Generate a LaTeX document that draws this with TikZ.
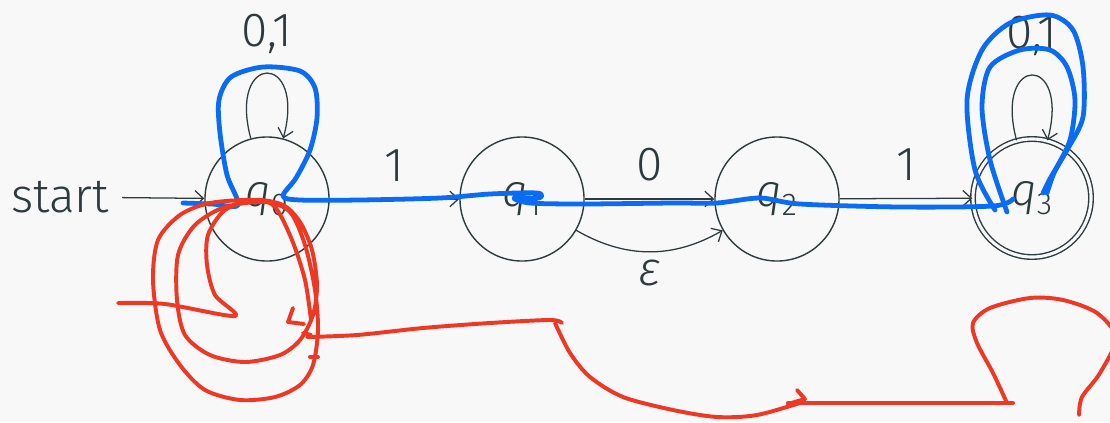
\documentclass[tikz,border=0pt]{standalone}
\usepackage{fontspec}
\setmainfont{Fira Sans}[UprightFont=* Light, ItalicFont=* Light Italic]
\usetikzlibrary{arrows.meta}
\definecolor{ink}{RGB}{45,58,62}
\definecolor{penblue}{RGB}{10,108,245}
\definecolor{penred}{RGB}{238,56,36}
\definecolor{paper}{RGB}{248,248,248}
\begin{document}
\begin{tikzpicture}[x=0.025cm,y=-0.025cm,
    state/.style={circle,draw=ink,line width=1pt,minimum size=3.1cm,inner sep=0pt,
      font=\fontsize{32}{34}\selectfont,text=ink},
    accepting/.style={double=paper,double distance=2.2pt,minimum size=2.95cm},
    lbl/.style={font=\fontsize{34}{37}\selectfont,text=ink},
    trans/.style={draw=ink,line width=0.9pt,-{Straight Barb[length=6pt,width=11pt]}},
    blueink/.style={penblue,line width=3.4pt,line cap=round,line join=round},
    redink/.style={penred,line width=2.8pt,line cap=round,line join=round}]
  \useasboundingbox[fill=paper] (0,0) rectangle (1110,422);
  \clip (0,0) rectangle (1110,422);
  \node[state] (q0) at (267,199) {\textit{q}\textsubscript{0}};
  \node[state] (q1) at (522,199) {\textit{q}\textsubscript{1}};
  \node[state] (q2) at (777,199) {\textit{q}\textsubscript{2}};
  \node[state,accepting] (q3) at (1032,198) {\textit{q}\textsubscript{3}};
  \node[lbl,anchor=east,inner sep=9pt] (start) at (122,197) {start};
  \draw[trans] (start) -- (q0);
  \draw[trans] (q0) -- node[lbl,above=9pt] (l01) {1} (q1);
  \draw[trans] (q1) -- node[lbl,above=9pt] (l12) {0} (q2);
  \draw[trans] (q2) -- node[lbl,above=9pt] (l23) {1} (q3);
  \draw[trans] (q1) to[bend right=30] node[lbl,below=2pt] (leps) {\textit{ε}} (q2);
  \draw[trans] (q0) to[out=105,in=75,distance=64pt] node[lbl,above=10pt] (loop0) {0,1} (q0);
  \draw[trans] (q3) to[out=105,in=75,distance=64pt] node[lbl,above=10pt] (loop3) {0,1} (q3);
  % pen marks
  \draw[blueink] plot[smooth,tension=0.5] coordinates {(183,203) (212,204) (238,205)
    (227,175) (220,133) (219,100) (231,77) (263,67) (300,71) (315,88) (317,118)
    (310,150) (296,178) (283,196) (300,200) (360,200) (440,198) (490,194) (537,193)
    (539,198) (514,198) (530,203) (583,204) (673,203) (717,203) (760,198)
    (800,204) (900,207) (993,206) (1013,199)};
  \draw[blueink] plot[smooth,tension=0.5] coordinates {(995,210) (975,170) (967,100)
    (982,50) (1010,23) (1050,15) (1073,30) (1083,67) (1083,117) (1067,150) (1051,177) (1043,193)};
  \draw[blueink] plot[smooth,tension=0.5] coordinates {(1007,212) (990,160) (982,107)
    (990,67) (1020,50) (1050,50) (1067,67) (1075,100) (1070,140) (1054,173) (1047,193)};
  \draw[redink] plot[smooth,tension=0.5] coordinates {(118,303) (165,304) (235,316)
    (215,295) (207,265) (208,235) (225,210) (255,200) (283,205) (300,222) (312,250)
    (317,285) (313,315) (300,340) (280,355) (245,362) (210,355) (185,335) (177,300)
    (178,255) (195,225) (225,207) (265,202) (290,212) (305,245) (315,290) (318,330)
    (313,365) (300,385) (275,397) (240,400) (205,390) (180,365) (160,330) (153,280)
    (158,240) (180,215) (210,203) (255,200) (275,207) (292,240) (305,280) (311,320)};
  \draw[redink] (293,308) -- (288,322) -- (304,324);
  \draw[redink] (303,333) -- (311,335);
  \draw[redink] (310,357) -- (318,357);
  \draw[redink] plot[smooth,tension=0.5] coordinates {(307,337) (357,335) (423,328)
    (490,323) (550,320) (562,323)};
  \draw[redink] plot[smooth,tension=0.5] coordinates {(555,323) (570,353) (590,377)
    (623,397) (673,410) (717,417) (757,415) (803,402)};
  \draw[redink] (797,390) -- (805,399) -- (788,404);
  \draw[redink] plot[smooth,tension=0.5] coordinates {(788,403) (900,403) (1013,403)};
  \draw[redink] plot[smooth,tension=0.5] coordinates {(1007,403) (993,373) (977,343)
    (973,323) (990,308) (1030,298) (1063,300) (1097,313) (1116,338) (1100,373)
    (1082,397) (1079,415)};
\end{tikzpicture}
\end{document}
